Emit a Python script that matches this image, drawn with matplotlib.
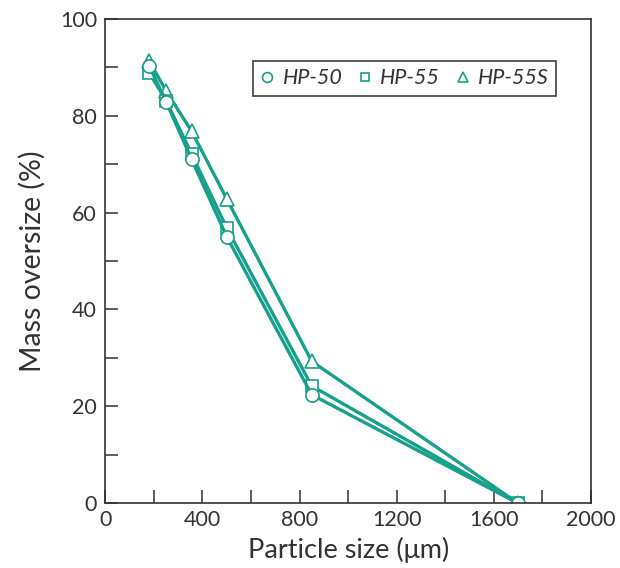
import matplotlib.pyplot as plt
from matplotlib.ticker import MultipleLocator

# particle sizes (um) and mass oversize (%)
sizes = [180, 250, 355, 500, 850, 1700]
hp50 = [90.3, 82.9, 71.0, 55.0, 22.4, 0.0]
hp55 = [88.9, 83.1, 72.1, 56.8, 24.2, 0.0]
hp55s = [91.3, 85.1, 76.8, 62.8, 29.3, 0.0]

labels = ["HP-50", "HP-55", "HP-55S"]
markers = ["o", "s", "^"]
teal = "#17a08a"

plt.rcParams["font.family"] = ["Lato", "DejaVu Sans"]

fig = plt.figure(figsize=(6.2, 5.68), dpi=100)
ax = fig.add_axes([0.170, 0.114, 0.783, 0.853])

# draw in reverse so circles end up on top like the original
for y, lab, m in reversed(list(zip([hp50, hp55, hp55s], labels, markers))):
    ax.plot(sizes, y, color=teal, lw=2.4, marker=m, ms=9.5 if m != "s" else 8.5,
            mfc="white", mec=teal, mew=1.2, label=lab)

ax.set_xlim(0, 2000)
ax.set_ylim(0, 100)
ax.xaxis.set_major_locator(MultipleLocator(400))
ax.xaxis.set_minor_locator(MultipleLocator(200))
ax.yaxis.set_major_locator(MultipleLocator(20))
ax.yaxis.set_minor_locator(MultipleLocator(10))
ax.tick_params(which="both", direction="in", length=9.5, width=1.1, color="#333333",
               labelsize=15.5, labelcolor="#333333", top=False, right=False)
ax.tick_params(axis="x", pad=5)
ax.tick_params(axis="y", pad=6)
for s in ax.spines.values():
    s.set_color("#333333")
    s.set_linewidth(1.2)

ax.set_xlabel("Particle size (μm)", fontsize=19.5, color="#333333", labelpad=5)
ax.set_ylabel("Mass oversize (%)", fontsize=20.5, color="#333333", labelpad=10)

h, l = ax.get_legend_handles_labels()
leg = ax.legend(h[::-1], l[::-1], ncol=3, loc="upper right", bbox_to_anchor=(0.928, 0.913),
                borderaxespad=0, fancybox=False, frameon=True, handlelength=0.6,
                handletextpad=0.4, columnspacing=0.75, markerscale=0.75,
                prop={"style": "italic", "size": 15.5}, borderpad=0.35)
leg.get_frame().set_edgecolor("#222222")
leg.get_frame().set_linewidth(1.3)
for line in leg.get_lines():
    line.set_linestyle("none")
for t in leg.get_texts():
    t.set_color("#333333")

fig.savefig("out.png", dpi=100)
